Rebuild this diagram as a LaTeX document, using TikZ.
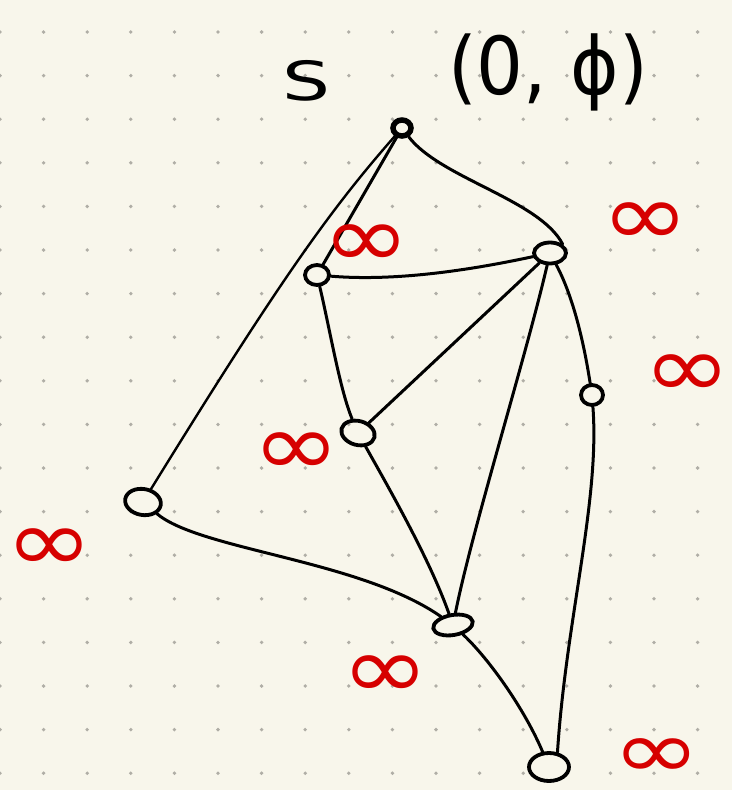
\documentclass[tikz,border=0pt]{standalone}
\usepackage{fontspec}
\setmainfont{DejaVu Sans}
\usetikzlibrary{shapes.geometric}
\definecolor{paper}{HTML}{F8F6EB}
\definecolor{dotc}{HTML}{B0AEA6}
\definecolor{inkred}{HTML}{D60000}
\begin{document}
\begin{tikzpicture}[x=1pt,y=-1pt,
  vtx/.style={ellipse,draw=black,line width=3.8pt,inner sep=0pt},
  edge/.style={line width=3pt,line cap=round},
  inf/.style={text=inkred,inner sep=0pt,xscale=1.2,text height=46pt,text depth=-14pt,
              font=\fontsize{88}{88}\selectfont},
  lbl/.style={inner sep=0pt}]
\useasboundingbox (0,0) rectangle (732,790);
\fill[paper] (0,0) rectangle (732,790);
\foreach \i in {0,...,16}
  \foreach \j in {0,...,17}
    \fill[dotc] (\i*43.6,32+\j*43.6) circle (1.9);
% vertices
\node[vtx,minimum width=18,minimum height=16,line width=5.5pt] (S) at (402,128) {};
\node[vtx,minimum width=32,minimum height=21] (A) at (550,253) {};
\node[vtx,minimum width=24,minimum height=20] (B) at (317,275) {};
\node[vtx,minimum width=22,minimum height=20] (C) at (592,395) {};
\node[vtx,minimum width=34,minimum height=24,rotate=-15] (D) at (358,433) {};
\node[vtx,minimum width=36,minimum height=26,rotate=-10] (E) at (143,502) {};
\node[vtx,minimum width=40,minimum height=20,rotate=10] (F) at (453,625) {};
\node[vtx,minimum width=40,minimum height=28] (G) at (549,767) {};
% edges
\draw[edge] (S) -- (B);
\draw[edge,line width=2.4pt] (S) .. controls (330,210) and (280,280) .. (E);
\draw[edge] (S) .. controls (440,178) and (540,200) .. (A.north east);
\draw[edge] (B) .. controls (400,282) and (480,268) .. (A);
\draw[edge] (B) .. controls (330,330) and (340,390) .. (D);
\draw[edge] (A) -- (D);
\draw[edge] (A) .. controls (525,360) and (472,530) .. (F);
\draw[edge] (A) .. controls (575,300) and (585,350) .. (C);
\draw[edge] (C) .. controls (600,500) and (566,620) .. (G.60);
\draw[edge] (D) .. controls (390,490) and (430,560) .. (F);
\draw[edge] (E) .. controls (200,550) and (360,560) .. (F);
\draw[edge] (F) .. controls (490,660) and (525,710) .. (G);
% labels
\node[lbl,xscale=1.4,font=\fontsize{54}{54}\selectfont] (lS) at (306,81) {S};
\node[lbl,xscale=0.92,font=\fontsize{80}{80}\selectfont] (lP) at (548,72) {(0, ϕ)};
\node[inf] (i1) at (645,222) {∞};
\node[inf] (i2) at (366,244) {∞};
\node[inf] (i3) at (687,374) {∞};
\node[inf] (i4) at (296,452) {∞};
\node[inf] (i5) at (49,548) {∞};
\node[inf] (i6) at (385,675) {∞};
\node[inf,font=\fontsize{82}{82}\selectfont,text height=43pt,text depth=-13pt,xscale=1.08] (i7) at (657,757) {∞};
\end{tikzpicture}
\end{document}
